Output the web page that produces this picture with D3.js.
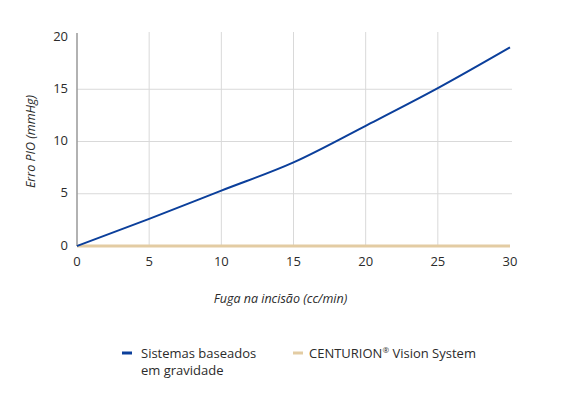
<!DOCTYPE html>
<html>
<head>
<meta charset="utf-8">
<script src="https://cdn.jsdelivr.net/npm/d3@7"></script>
<style>
  body { margin: 0; background: #fff; }
  svg text { font-family: "Open Sans", sans-serif; fill: #2b2b2b; }
</style>
</head>
<body>
<div id="chart"></div>
<script>
// data
var flow = [0, 5, 10, 15, 20, 25, 30];
var gravityErr = [0, 2.6, 5.3, 8.0, 11.5, 15.1, 19.0];
var centurionErr = [0, 0, 0, 0, 0, 0, 0];
var xTicks = [0, 5, 10, 15, 20, 25, 30];
var yTicks = [0, 5, 10, 15, 20];
var seriesNames = ["Sistemas baseados|em gravidade", "CENTURION^®^ Vision System"];
var seriesColors = ["#0b3f9b", "#e3cca3"];

var W = 573, H = 409;
var m = {l: 77, r: 63, t: 37, b: 163};

var svg = d3.select("#chart").append("svg")
    .attr("width", W).attr("height", H);

var x = d3.scaleLinear().domain([0, 30]).range([m.l, W - m.r]);
var y = d3.scaleLinear().domain([0, 20]).range([H - m.b, m.t]);

// grid
svg.append("g").selectAll("line.v")
    .data(xTicks.filter(function(d){ return d > 0 && d < 30; }))
  .enter().append("line")
    .attr("x1", function(d){ return x(d); }).attr("x2", function(d){ return x(d); })
    .attr("y1", y(0)).attr("y2", y(20) - 5)
    .attr("stroke", "#d9d9d9").attr("stroke-width", 1);

svg.append("g").selectAll("line.h")
    .data(yTicks.filter(function(d){ return d > 0 && d < 20; }))
  .enter().append("line")
    .attr("x1", x(0)).attr("x2", x(30) + 2)
    .attr("y1", function(d){ return y(d); }).attr("y2", function(d){ return y(d); })
    .attr("stroke", "#d9d9d9").attr("stroke-width", 1);

// y axis line
svg.append("line")
    .attr("x1", x(0)).attr("x2", x(0))
    .attr("y1", y(20) - 4).attr("y2", y(0))
    .attr("stroke", "#999").attr("stroke-width", 1.5);

// tick labels
svg.append("g").selectAll("text")
    .data(yTicks)
  .enter().append("text")
    .attr("x", x(0) - 9).attr("y", function(d){ return y(d) - 1; })
    .attr("dy", "0.35em").attr("text-anchor", "end")
    .style("font-size", "13px")
    .text(function(d){ return d; });

svg.append("g").selectAll("text")
    .data(xTicks)
  .enter().append("text")
    .attr("x", function(d){ return x(d); }).attr("y", y(0) + 20)
    .attr("text-anchor", "middle")
    .style("font-size", "13px")
    .text(function(d){ return d; });

// axis titles
svg.append("text")
    .attr("transform", "translate(35," + ((y(0) + y(20)) / 2) + ") rotate(-90)")
    .attr("text-anchor", "middle")
    .style("font-size", "12.5px").style("font-style", "italic")
    .text("Erro PIO (mmHg)");

svg.append("text")
    .attr("x", (x(0) + x(30)) / 2 - 13).attr("y", 303)
    .attr("text-anchor", "middle")
    .style("font-size", "12.5px").style("font-style", "italic")
    .text("Fuga na incisão (cc/min)");

// lines
var line = d3.line().curve(d3.curveMonotoneX);

svg.append("path")
    .attr("d", line(flow.map(function(f, i){ return [x(f), y(centurionErr[i])]; })))
    .attr("fill", "none").attr("stroke", seriesColors[1]).attr("stroke-width", 3);

svg.append("path")
    .attr("d", line(flow.map(function(f, i){ return [x(f), y(gravityErr[i])]; })))
    .attr("fill", "none").attr("stroke", seriesColors[0]).attr("stroke-width", 2);

// legend
var legendX = [122, 293];
var leg = svg.append("g").selectAll("g")
    .data(seriesNames)
  .enter().append("g")
    .attr("transform", function(d, i){ return "translate(" + legendX[i] + ",353)"; });

leg.append("line")
    .attr("x1", 0).attr("x2", 10)
    .attr("stroke", function(d, i){ return seriesColors[i]; })
    .attr("stroke-width", 3);

leg.append("text")
    .attr("x", function(d, i){ return i == 0 ? 19 : 16; })
    .attr("y", 5)
    .style("font-size", "13px")
    .each(function(d){
      var t = d3.select(this);
      d.split("|").forEach(function(s, k){
        var ts = t.append("tspan").attr("x", t.attr("x")).attr("dy", k ? 16.5 : 0);
        // ^...^ marks a superscript bit
        var shift = 0;
        s.split("^").forEach(function(part, j){
          var p = ts.append("tspan").text(part);
          if (j % 2) {
            p.attr("dy", -5).style("font-size", "8px");
            shift = 5;
          } else if (shift) {
            p.attr("dy", shift);
            shift = 0;
          }
        });
      });
    });
</script>
</body>
</html>
